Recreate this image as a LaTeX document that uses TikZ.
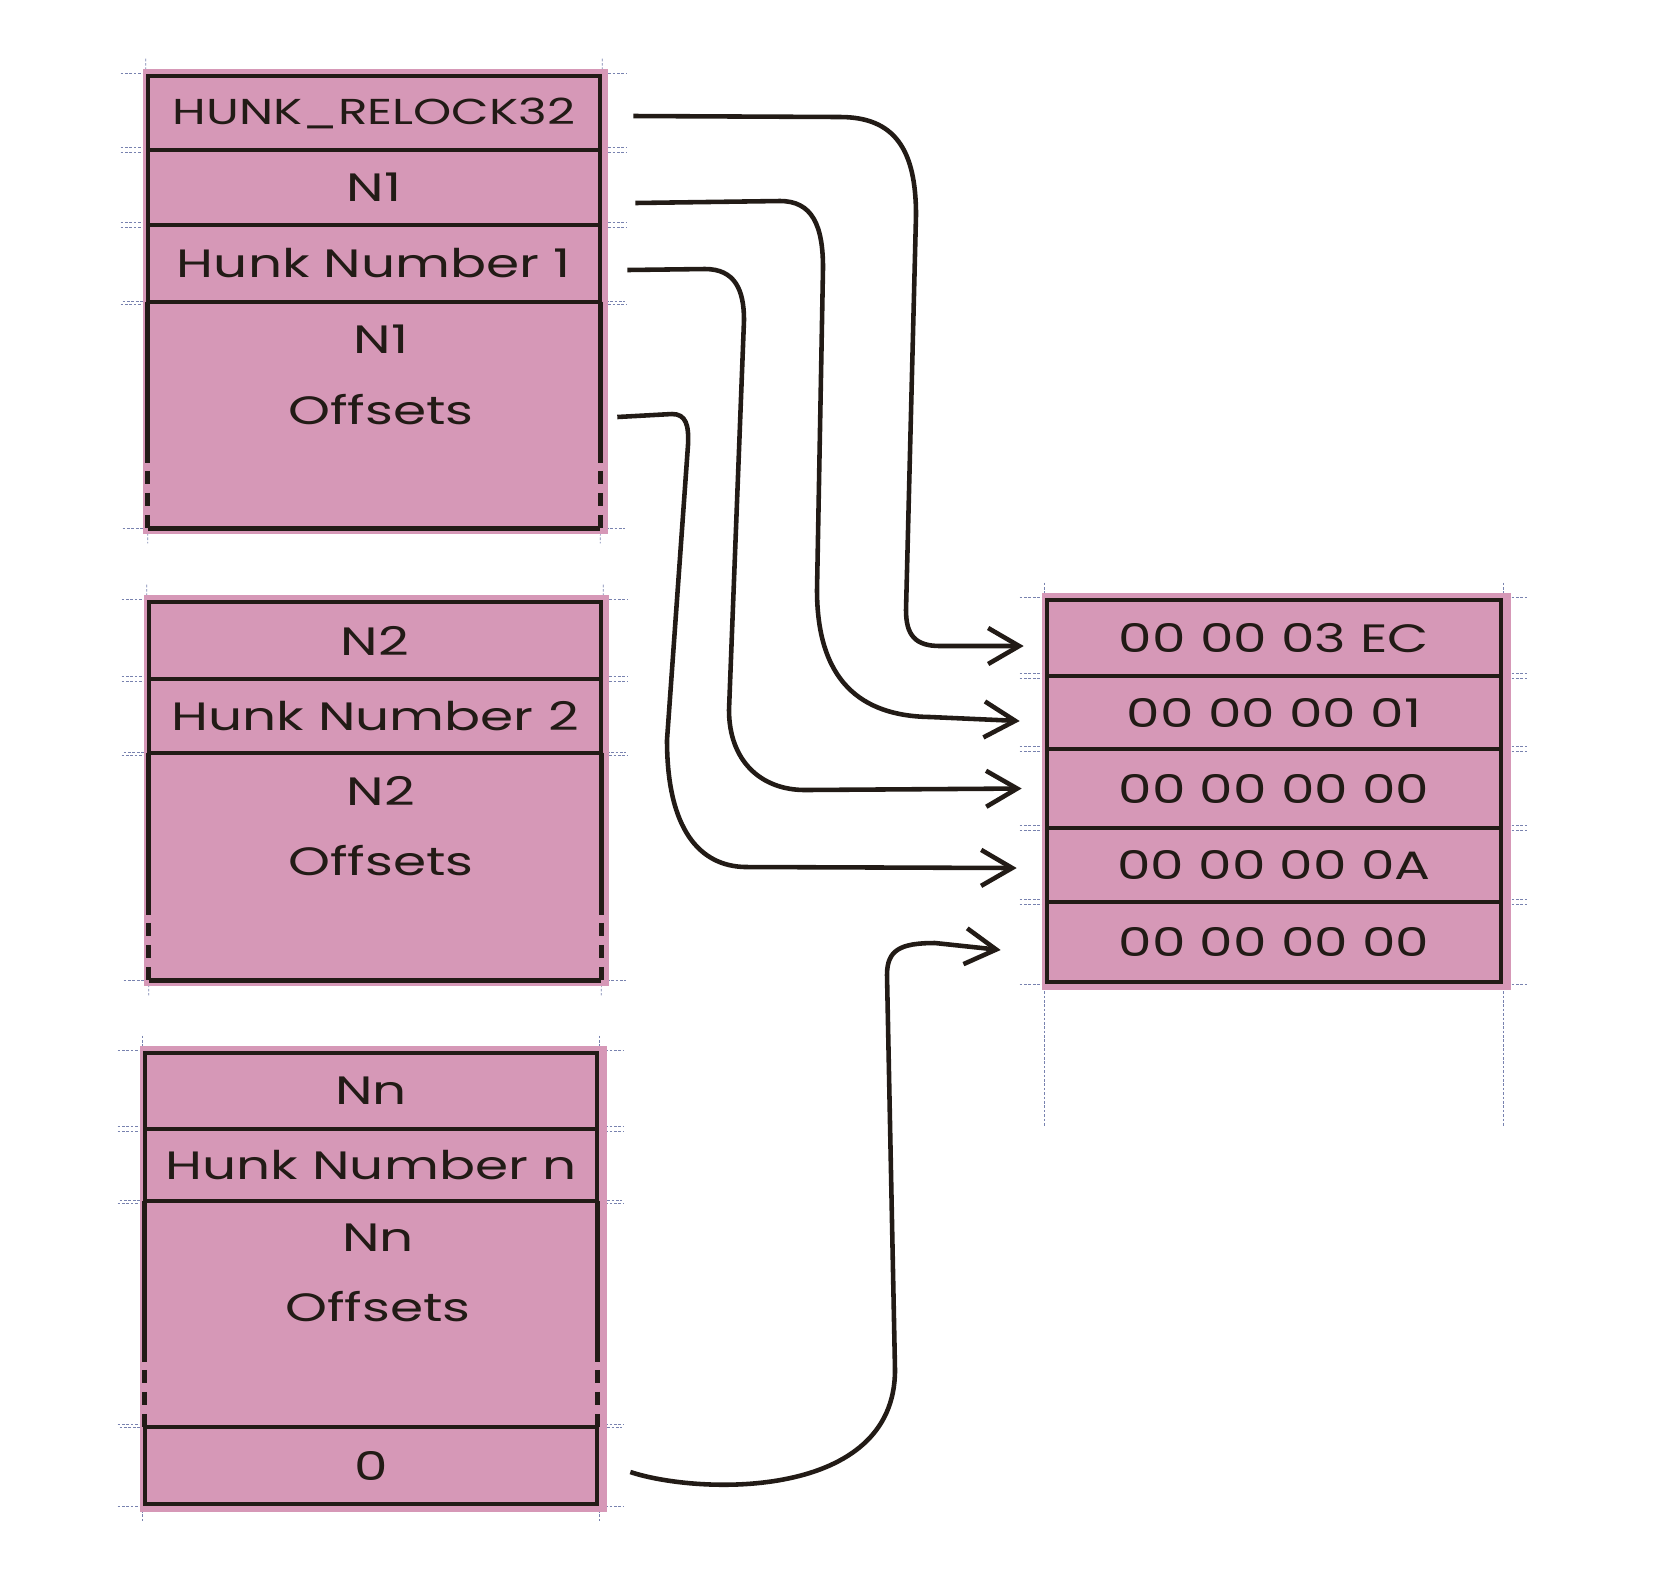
\documentclass[tikz,border=0pt]{standalone}
\usepackage{fontspec}
\newfontfamily\handfont{Poppins}[FakeStretch=1.35]
\usetikzlibrary{arrows.meta, backgrounds}
\definecolor{hunkpink}{RGB}{214,152,183}
\definecolor{inkc}{RGB}{34,27,22}
\definecolor{guidec}{RGB}{120,130,175}

\begin{document}
\begin{tikzpicture}[x=0.02cm, y=-0.02cm,
	cell/.style={draw=inkc, line width=2.7pt, minimum width=9.04cm, inner sep=0pt, text=inkc, font=\handfont\fontsize{22.5}{26}\selectfont},
	tall/.style={minimum width=9.04cm, inner sep=0pt},
	lbl/.style={align=center, text=inkc, font=\handfont\fontsize{22.5}{40}\selectfont},
	side/.style={draw=inkc, line width=2.7pt},
	gapside/.style={side, dash pattern=on 0.27cm off 0.17cm},
	arr/.style={draw=inkc, line width=2.6pt, -{Straight Barb[length=0.62cm, width=0.72cm]}},
	guide/.style={draw=guidec, line width=0.4pt, dash pattern=on 1.5pt off 1pt}]
		\useasboundingbox (0,0) rectangle (1655,1587);
		
		% first hunk
		\node[cell, minimum height=1.48cm, font=\handfont\fontsize{20.5}{26}\selectfont] (hdr1) at (374,113) {HUNK\_RELOCK32};
		\node[cell, minimum height=1.5cm] (cnt1) at (374,187.5) {N1};
		\node[cell, minimum height=1.54cm] (hno1) at (374,263.5) {Hunk Number 1};
		\node[tall, minimum height=4.52cm] (off1) at (374,415) {};
		\node[lbl] (lbl1) at (381,375) {N1\\Offsets};
		
		% second hunk
		\node[cell, minimum height=1.54cm] (cnt2) at (375,640.5) {N2};
		\node[cell, minimum height=1.48cm] (hno2) at (375,716) {Hunk Number 2};
		\node[tall, minimum height=4.54cm] (off2) at (375,866.5) {};
		\node[lbl] (lbl2) at (381,826) {N2\\Offsets};
		
		% last hunk
		\node[cell, minimum height=1.52cm] (cnt3) at (371,1091) {Nn};
		\node[cell, minimum height=1.44cm] (hno3) at (371,1165) {Hunk Number n};
		\node[tall, minimum height=4.52cm] (off3) at (371,1314) {};
		\node[lbl] (lbl3) at (378,1273) {Nn\\Offsets};
		\node[cell, minimum height=1.54cm] (end3) at (371,1465.5) {0};
		
		% hex dump
		\node[cell, minimum width=9.08cm, minimum height=1.52cm] (v1) at (1274,638) {00 00 03 EC};
		\node[cell, minimum width=9.08cm, minimum height=1.46cm] (v2) at (1274,712.5) {00 00 00 01};
		\node[cell, minimum width=9.08cm, minimum height=1.58cm] (v3) at (1274,788.5) {00 00 00 00};
		\node[cell, minimum width=9.08cm, minimum height=1.48cm] (v4) at (1274,865) {00 00 00 0A};
		\node[cell, minimum width=9.08cm, minimum height=1.6cm] (v5) at (1274,942) {00 00 00 00};
		
		% offset cells: open sides
		\draw[side] (off1.south west) -- (off1.south east);
		\draw[side] (off2.south west) -- (off2.south east);
		\foreach \o in {off1,off2,off3} {
			\draw[side] (\o.north west) -- ([yshift=1.3cm]\o.south west);
			\draw[side] (\o.north east) -- ([yshift=1.3cm]\o.south east);
			\draw[gapside] ([yshift=1.15cm]\o.south west) -- (\o.south west);
			\draw[gapside] ([yshift=1.15cm]\o.south east) -- (\o.south east);
		}
		
		\begin{scope}[on background layer]
			\foreach \c in {hdr1,cnt1,hno1,off1,cnt2,hno2,off2,cnt3,hno3,off3,end3,v1,v2,v3,v4,v5} {
				\draw[guide] ([xshift=-0.5cm]\c.north west) -- ([xshift=0.5cm]\c.north east);
				\draw[guide] ([xshift=-0.5cm]\c.south west) -- ([xshift=0.5cm]\c.south east);
			}
			\draw[guide] ([yshift=0.3cm]hdr1.north west) -- ([yshift=-0.3cm]off1.south west);
			\draw[guide] ([yshift=0.3cm]hdr1.north east) -- ([yshift=-0.3cm]off1.south east);
			\draw[guide] ([yshift=0.3cm]cnt2.north west) -- ([yshift=-0.3cm]off2.south west);
			\draw[guide] ([yshift=0.3cm]cnt2.north east) -- ([yshift=-0.3cm]off2.south east);
			\draw[guide] ([yshift=0.3cm]cnt3.north west) -- ([yshift=-0.3cm]end3.south west);
			\draw[guide] ([yshift=0.3cm]cnt3.north east) -- ([yshift=-0.3cm]end3.south east);
			\draw[guide] ([yshift=0.3cm]v1.north west) -- ([yshift=-2.85cm]v5.south west);
			\draw[guide] ([yshift=0.3cm]v1.north east) -- ([yshift=-2.85cm]v5.south east);
			
			\fill[hunkpink] ([shift={(-0.05cm,0.1cm)}]hdr1.north west) rectangle ([shift={(0.16cm,-0.12cm)}]off1.south east);
			\fill[hunkpink] ([shift={(-0.05cm,0.1cm)}]cnt2.north west) rectangle ([shift={(0.16cm,-0.12cm)}]off2.south east);
			\fill[hunkpink] ([shift={(-0.05cm,0.1cm)}]cnt3.north west) rectangle ([shift={(0.16cm,-0.12cm)}]end3.south east);
			\fill[hunkpink] ([shift={(-0.05cm,0.1cm)}]v1.north west) rectangle ([shift={(0.16cm,-0.12cm)}]v5.south east);
		\end{scope}
		
		% relocation pointers
		\draw[arr] ([xshift=0.62cm,yshift=-0.06cm]hdr1.east) -- (840,117) .. controls (895,117) and (916,150) .. (916,215) -- (906,610) .. controls (906,635) and (915,646) .. (940,646) -- ([xshift=-0.42cm,yshift=-0.16cm]v1.west);
		\draw[arr] ([xshift=0.66cm,yshift=-0.31cm]cnt1.east) -- (780,201) .. controls (812,201) and (823,225) .. (823,268) -- (817,590) .. controls (817,680) and (860,716) .. (930,717) -- ([xshift=-0.5cm,yshift=-0.17cm]v2.west);
		\draw[arr] ([xshift=0.5cm,yshift=-0.13cm]hno1.east) -- (705,269) .. controls (735,269) and (744,290) .. (744,320) -- (729,710) .. controls (729,760) and (760,790) .. (805,790) -- ([xshift=-0.46cm]v3.west);
		\draw[arr] ([xshift=0.34cm,yshift=-0.04cm]off1.east) -- (672,414) .. controls (686,414) and (689,425) .. (688,445) -- (667,740) .. controls (667,830) and (700,866) .. (745,867) -- ([xshift=-0.56cm,yshift=-0.06cm]v4.west);
		\draw[arr] ([xshift=0.62cm,yshift=-0.13cm]end3.east) .. controls (700,1495) and (895,1500) .. (895,1370) -- (887,975) .. controls (887,950) and (900,943) .. (935,943) -- ([xshift=-0.88cm,yshift=-0.16cm]v5.west);
		\end{tikzpicture}
\end{document}
